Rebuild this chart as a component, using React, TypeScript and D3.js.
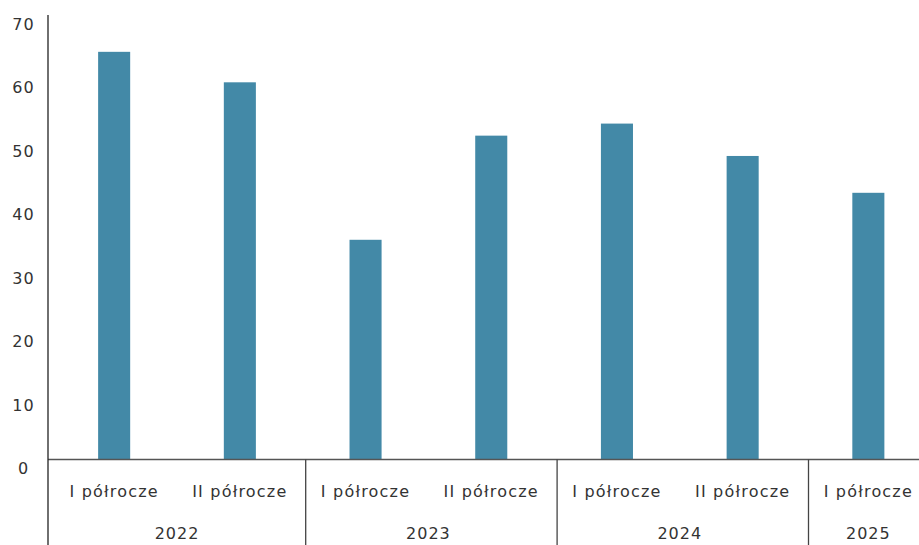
import React, { useEffect, useRef } from "react";
import * as d3 from "d3";

const categories = ["I półrocze", "II półrocze", "I półrocze", "II półrocze", "I półrocze", "II półrocze", "I półrocze"];
const years = ["2022", "2022", "2023", "2023", "2024", "2024", "2025"];
const values = [64.2, 59.4, 34.6, 51.0, 52.9, 47.8, 42.0];
const yTicks = [0, 10, 20, 30, 40, 50, 60, 70];

const App = () => {
  const ref = useRef<SVGSVGElement>(null);

  useEffect(() => {
    const svg = d3.select(ref.current);
    svg.selectAll("*").remove();

    const width = 919;
    const height = 545;
    const axisX = 48;
    const baseY = 459.5;
    const font = "'DejaVu Sans', sans-serif";

    const y = d3.scaleLinear().domain([0, 70]).range([baseY, 15]);
    const x = d3.scaleBand<number>()
      .domain(values.map((_, i) => i))
      .range([51.3, 51.3 + 7 * 125.7])
      .paddingInner(0.745)
      .paddingOuter(0.3725);

    // bars
    svg.selectAll("rect.bar")
      .data(values)
      .enter()
      .append("rect")
      .attr("class", "bar")
      .attr("x", (_, i) => x(i)!)
      .attr("y", d => y(d))
      .attr("width", x.bandwidth())
      .attr("height", d => baseY - y(d))
      .attr("fill", "#4389a7");

    // y labels (sit a bit below their gridline position)
    svg.selectAll("text.ylab")
      .data(yTicks)
      .enter()
      .append("text")
      .attr("class", "ylab")
      .attr("x", 23.5)
      .attr("y", d => y(d) + 10)
      .attr("text-anchor", "middle")
      .attr("dominant-baseline", "middle")
      .style("font-family", font)
      .style("font-size", "16px")
      .style("letter-spacing", "1px")
      .attr("fill", "#333")
      .text(d => d);

    // baseline + y axis line
    svg.append("line")
      .attr("x1", axisX).attr("x2", width)
      .attr("y1", baseY).attr("y2", baseY)
      .attr("stroke", "#555").attr("stroke-width", 1.3);
    svg.append("line")
      .attr("x1", axisX).attr("x2", axisX)
      .attr("y1", 15).attr("y2", height)
      .attr("stroke", "#222").attr("stroke-width", 1.3);

    // category labels
    const step = x.step();
    svg.selectAll("text.cat")
      .data(categories)
      .enter()
      .append("text")
      .attr("class", "cat")
      .attr("x", (_, i) => x(i)! + x.bandwidth() / 2)
      .attr("y", 492)
      .attr("text-anchor", "middle")
      .attr("dominant-baseline", "middle")
      .style("font-family", font)
      .style("font-size", "16px")
      .style("letter-spacing", "1.2px")
      .attr("fill", "#333")
      .text(d => d);

    // year groups
    const groups = Array.from(d3.group(years.map((yr, i) => ({ yr, i })), d => d.yr).values());
    groups.forEach((g, gi) => {
      const first = g[0].i;
      const last = g[g.length - 1].i;
      const cx = (x(first)! + x(last)! + x.bandwidth()) / 2;
      svg.append("text")
        .attr("x", cx)
        .attr("y", 534)
        .attr("text-anchor", "middle")
        .attr("dominant-baseline", "middle")
        .style("font-family", font)
        .style("font-size", "16px")
        .style("letter-spacing", "1px")
        .attr("fill", "#333")
        .text(g[0].yr);
      if (gi < groups.length - 1) {
        const sx = x(last)! + x.bandwidth() / 2 + step / 2 + 3;
        svg.append("line")
          .attr("x1", sx).attr("x2", sx)
          .attr("y1", baseY).attr("y2", height)
          .attr("stroke", "#444").attr("stroke-width", 1.3);
      }
    });
  }, []);

  return (
    <svg
      ref={ref}
      width={919}
      height={545}
      style={{ position: "absolute", left: 0, top: 0, background: "#fff" }}
    />
  );
};

export default App;
